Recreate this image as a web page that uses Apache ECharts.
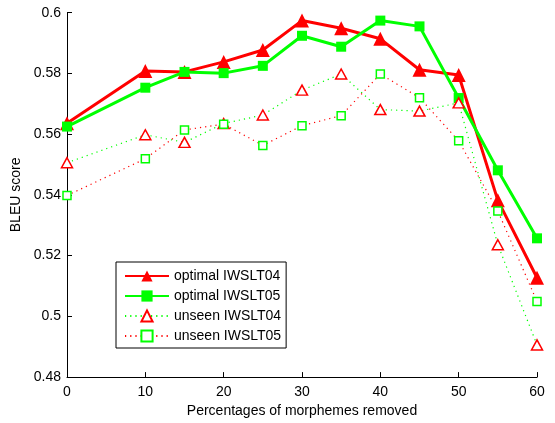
<!DOCTYPE html>
<html>
<head>
<meta charset="utf-8">
<script src="https://cdn.jsdelivr.net/npm/echarts@6/dist/echarts.min.js"></script>
<style>html,body{margin:0;padding:0;background:#fff}#c{width:555px;height:423px}</style>
</head>
<body>
<div id="c"></div>
<script>
const xValues = [0, 10, 15, 20, 25, 30, 35, 40, 45, 50, 55, 60];
const optimal04 = [0.5636, 0.5808, 0.5805, 0.5838, 0.5877, 0.5974, 0.5949, 0.5914, 0.5812, 0.5795, 0.5382, 0.5127];
const optimal05 = [0.5625, 0.5753, 0.5805, 0.5801, 0.5825, 0.5924, 0.5888, 0.5974, 0.5955, 0.5719, 0.5481, 0.5257];
const unseen04 = [0.5506, 0.5598, 0.5573, 0.5635, 0.5663, 0.5745, 0.5798, 0.5681, 0.5676, 0.5703, 0.5236, 0.4906];
const unseen05 = [0.5398, 0.5519, 0.5614, 0.5633, 0.5563, 0.5628, 0.5661, 0.5798, 0.5720, 0.5578, 0.5347, 0.5049];
const seriesNames = ['optimal IWSLT04', 'optimal IWSLT05', 'unseen IWSLT04', 'unseen IWSLT05'];
const xTicks = [0, 10, 20, 30, 40, 50, 60];
const yTicks = [0.48, 0.5, 0.52, 0.54, 0.56, 0.58, 0.6];

const RED = '#ff0000', GREEN = '#00ff00';
const pairs = arr => xValues.map((x, i) => [x, arr[i]]);
const font = 'Liberation Sans, Arial, sans-serif';

const chart = echarts.init(document.getElementById('c'), null, {renderer: 'canvas'});
chart.setOption({
  animation: false,
  backgroundColor: '#fff',
  grid: {left: 67, right: 18, top: 12.7, bottom: 40.3, containLabel: false},
  xAxis: {
    type: 'value', min: xTicks[0], max: xTicks[xTicks.length - 1], interval: 10,
    name: 'Percentages of morphemes removed', nameLocation: 'middle', nameGap: 24,
    nameTextStyle: {color: '#000', fontSize: 14, fontFamily: font},
    axisLine: {lineStyle: {color: '#000', width: 1}},
    axisTick: {inside: true, length: 5, lineStyle: {color: '#000'}},
    axisLabel: {color: '#000', fontSize: 14, fontFamily: font, margin: 8},
    splitLine: {show: false}
  },
  yAxis: {
    type: 'value', min: yTicks[0], max: yTicks[yTicks.length - 1], interval: 0.02,
    name: 'BLEU score', nameLocation: 'middle', nameGap: 37,
    nameTextStyle: {color: '#000', fontSize: 14, fontFamily: font},
    axisLine: {show: true, lineStyle: {color: '#000', width: 1}},
    axisTick: {show: true, inside: true, length: 5, lineStyle: {color: '#000'}},
    axisLabel: {color: '#000', fontSize: 14, fontFamily: font, margin: 6,
      formatter: v => String(Number(v.toFixed(2)))},
    splitLine: {show: false}
  },
  legend: {
    orient: 'vertical', left: 116, top: 262,
    padding: [7, 5, 5, 8],
    itemWidth: 44, itemHeight: 14, itemGap: 6,
    backgroundColor: '#fff', borderColor: '#000', borderWidth: 1,
    textStyle: {color: '#000', fontSize: 14, fontFamily: font, padding: [0, 0, 0, 0]},
    data: seriesNames
  },
  series: [
    {name: seriesNames[0], type: 'line', data: pairs(optimal04),
     symbol: 'triangle', symbolSize: 14,
     lineStyle: {color: RED, width: 3}, itemStyle: {color: RED}},
    {name: seriesNames[1], type: 'line', data: pairs(optimal05),
     symbol: 'rect', symbolSize: 10,
     lineStyle: {color: GREEN, width: 3}, itemStyle: {color: GREEN}},
    {name: seriesNames[2], type: 'line', data: pairs(unseen04),
     symbol: 'triangle', symbolSize: [11, 10],
     lineStyle: {color: GREEN, width: 1.2, type: [1.2, 4]},
     itemStyle: {color: '#fff', borderColor: RED, borderWidth: 1.5}},
    {name: seriesNames[3], type: 'line', data: pairs(unseen05),
     symbol: 'rect', symbolSize: 8,
     lineStyle: {color: RED, width: 1.2, type: [1.2, 4]},
     itemStyle: {color: '#fff', borderColor: GREEN, borderWidth: 1.5}}
  ]
});
</script>
</body>
</html>
